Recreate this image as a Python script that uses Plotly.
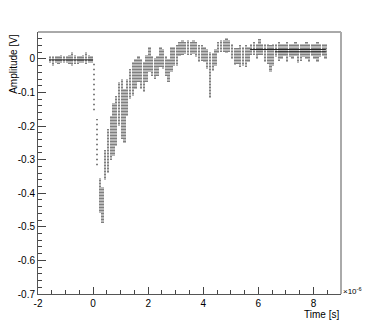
""" Oscilloscope trace: amplitude vs time """

import plotly.graph_objects as go

# trace cloud read per 0.1 us column: upper and lower edge of the samples [V]
base_t = [-1.6, -1.5, -1.4, -1.3, -1.2, -1.1, -1.0, -0.9, -0.8, -0.7, -0.6, -0.5,
          -0.4, -0.3, -0.2, -0.1]
base_hi = [0.010, 0.010, 0.009, 0.010, 0.012, 0.010, 0.009, 0.012, 0.020, 0.012,
           0.010, 0.010, 0.012, 0.020, 0.012, 0.010]
base_lo = [-0.012, -0.020, -0.012, -0.014, -0.012, -0.012, -0.012, -0.016, -0.020,
           -0.016, -0.016, -0.012, -0.012, -0.014, -0.012, -0.012]

step_t = [0.0, 0.1]
step_hi = [-0.01, -0.18]
step_lo = [-0.16, -0.32]

pulse_t = [0.2, 0.3, 0.4, 0.5, 0.6, 0.7, 0.8, 0.9, 1.0, 1.1, 1.2, 1.3, 1.4, 1.5,
           1.6, 1.7, 1.8, 1.9, 2.0, 2.1, 2.2, 2.3, 2.4, 2.5, 2.6, 2.7, 2.8, 2.9,
           3.0, 3.1, 3.2, 3.3, 3.4, 3.5, 3.6, 3.7, 3.8, 3.9, 4.0, 4.1, 4.2, 4.3, 4.4]
pulse_hi = [-0.355, -0.38, -0.27, -0.21, -0.17, -0.13, -0.11, -0.07, -0.06, -0.09,
            -0.06, -0.03, -0.01, 0.0, 0.01, 0.0, -0.01, 0.012, 0.035, 0.01, 0.003,
            0.01, 0.035, 0.03, 0.01, 0.0, 0.035, 0.035, 0.04, 0.05, 0.057, 0.05,
            0.057, 0.05, 0.057, 0.05, 0.04, 0.04, 0.035, 0.03, 0.02, 0.018, 0.03]
pulse_lo = [-0.46, -0.49, -0.36, -0.34, -0.30, -0.29, -0.26, -0.20, -0.24, -0.25,
            -0.17, -0.12, -0.11, -0.09, -0.07, -0.09, -0.10, -0.07, -0.04, -0.05,
            -0.06, -0.05, -0.025, -0.03, -0.05, -0.07, -0.04, -0.02, -0.02, 0.01,
            0.012, 0.015, 0.012, 0.012, 0.015, 0.005, -0.01, -0.005, -0.01, -0.03,
            -0.115, -0.035, -0.02]

tail_t = [4.5, 4.6, 4.7, 4.8, 4.9, 5.0, 5.1, 5.2, 5.3, 5.4, 5.5, 5.6, 5.7, 5.8,
          5.9, 6.0, 6.1, 6.2, 6.3, 6.4, 6.5, 6.6, 6.7, 6.8, 6.9, 7.0, 7.1, 7.2,
          7.3, 7.4, 7.5, 7.6, 7.7, 7.8, 7.9, 8.0, 8.1, 8.2, 8.3, 8.4]
tail_hi = [0.05, 0.055, 0.055, 0.062, 0.055, 0.045, 0.033, 0.033, 0.04, 0.035,
           0.04, 0.035, 0.045, 0.05, 0.045, 0.06, 0.045, 0.045, 0.045, 0.04, 0.045,
           0.045, 0.05, 0.045, 0.045, 0.05, 0.045, 0.045, 0.05, 0.045, 0.045,
           0.045, 0.05, 0.045, 0.045, 0.045, 0.05, 0.045, 0.045, 0.045]
tail_lo = [0.018, 0.02, 0.02, 0.018, 0.02, 0.0, -0.018, -0.015, -0.024, -0.02,
           -0.024, -0.01, 0.012, 0.012, 0.0, 0.012, 0.012, -0.01, -0.015, -0.039,
           -0.02, 0.005, -0.005, 0.0, 0.01, -0.01, 0.005, 0.0, 0.01, -0.012, -0.005,
           0.005, 0.0, -0.01, 0.01, 0.0, -0.008, 0.005, 0.01, 0.0]

# most populated ADC levels (the dark lines in the flat parts)
core_t = [-1.6, 0.0, None, 5.7, 8.45, None, 6.6, 8.45]
core_amp = [-0.003, -0.003, None, 0.028, 0.028, None, 0.021, 0.021]

x_ticks = [-2, 0, 2, 4, 6, 8]
x_labels = ['-2', '0', '2', '4', '6', '8']
y_ticks = [0, -0.1, -0.2, -0.3, -0.4, -0.5, -0.6, -0.7]
y_labels = ['0', '-0.1', '-0.2', '-0.3', '-0.4', '-0.5', '-0.6', '-0.7']

FONT = 'Liberation Sans, Arial, sans-serif'


def cloud(t, hi, lo, size, solidity):
    return go.Bar(
        x=t,
        y=[h - l for h, l in zip(hi, lo)],
        base=lo,
        width=0.085,
        offset=0,
        marker=dict(
            color='rgba(0,0,0,0)',
            line=dict(width=0),
            pattern=dict(shape='-', fgcolor='black', bgcolor='rgba(0,0,0,0)',
                         size=size, solidity=solidity),
        ),
        hoverinfo='skip',
        showlegend=False,
    )


fig = go.Figure()
fig.add_trace(cloud(base_t, base_hi, base_lo, 3, 0.7))
fig.add_trace(cloud(step_t, step_hi, step_lo, 5, 0.3))
fig.add_trace(cloud(pulse_t, pulse_hi, pulse_lo, 3, 0.7))
fig.add_trace(cloud(tail_t, tail_hi, tail_lo, 3, 0.7))
fig.add_trace(go.Scatter(
    x=core_t, y=core_amp, mode='lines',
    line=dict(color='#222', width=1),
    hoverinfo='skip', showlegend=False,
))

fig.update_layout(
    width=379,
    height=327,
    margin=dict(l=38, r=38, t=32, b=33, autoexpand=False),
    paper_bgcolor='white',
    plot_bgcolor='white',
    bargap=0,
    font=dict(family=FONT, size=10, color='black'),
    xaxis=dict(
        range=[-2, 9],
        tickvals=x_ticks,
        ticktext=x_labels,
        ticks='inside',
        ticklen=7,
        tickcolor='#444',
        minor=dict(tick0=0, dtick=0.5, ticks='inside', ticklen=4, tickcolor='#444'),
        showline=True,
        linecolor='#555',
        showgrid=False,
        zeroline=False,
        automargin=False,
        tickfont=dict(size=10),
    ),
    yaxis=dict(
        range=[-0.7, 0.08],
        tickvals=y_ticks,
        ticktext=y_labels,
        ticks='inside',
        ticklen=8,
        tickcolor='#444',
        minor=dict(tick0=0, dtick=0.02, ticks='inside', ticklen=4, tickcolor='#444'),
        showline=True,
        linecolor='#555',
        showgrid=False,
        zeroline=False,
        automargin=False,
        tickfont=dict(size=10),
    ),
    shapes=[
        dict(type='line', xref='paper', yref='paper', x0=0, x1=1, y0=1, y1=1,
             line=dict(color='#555', width=1)),
        dict(type='line', xref='paper', yref='paper', x0=1, x1=1, y0=0, y1=1,
             line=dict(color='#aaa', width=2)),
    ],
    annotations=[
        dict(text='Amplitude [V]', textangle=-90, xref='paper', yref='paper',
             x=-0.083, y=1, xanchor='center', yanchor='top', showarrow=False,
             font=dict(size=10)),
        dict(text='Time [s]', xref='paper', yref='paper', x=1, y=-0.08,
             xanchor='right', yanchor='middle', showarrow=False, font=dict(size=10)),
        dict(text='×10<sup>-6</sup>', xref='paper', yref='paper', x=1, y=0.012,
             xanchor='left', yanchor='middle', showarrow=False, font=dict(size=8)),
    ],
)

# the page's default body margin would shift the whole figure
fig.write_html('out.html', config={'displayModeBar': False},
               post_script="document.body.style.margin = '0';")
